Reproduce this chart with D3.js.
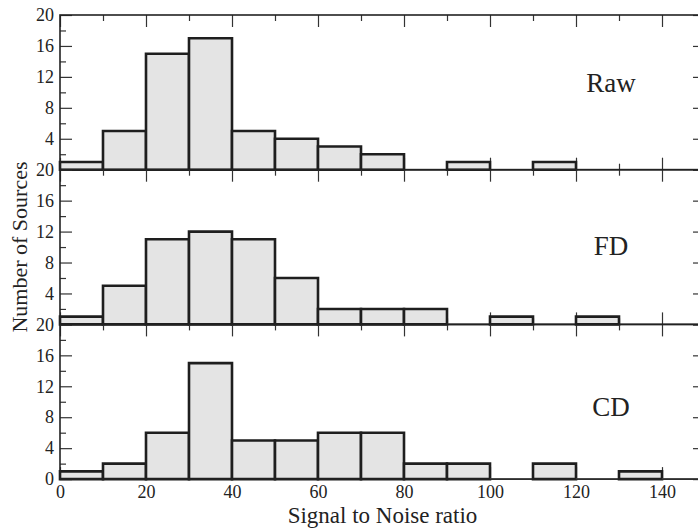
<!DOCTYPE html>
<html>
<head>
<meta charset="utf-8">
<script src="https://cdn.jsdelivr.net/npm/d3@7"></script>
<style>
  body { margin: 0; background: #fff; }
  svg text { font-family: "Liberation Serif", "Times New Roman", serif; fill: #222; }
</style>
</head>
<body>
<div id="chart"></div>
<script>
// bin lower edges are 0,10,20,... ; counts per bin
var binWidth = 10;
var rawCounts = [1, 5, 15, 17, 5, 4, 3, 2, 0, 1, 0, 1];
var fdCounts  = [1, 5, 11, 12, 11, 6, 2, 2, 2, 0, 1, 0, 1];
var cdCounts  = [1, 2, 6, 15, 5, 5, 6, 6, 2, 2, 0, 2, 0, 1, 0];
var panelNames = ["Raw", "FD", "CD"];
var xTicks = [0, 20, 40, 60, 80, 100, 120, 140];
var yTicks = [0, 4, 8, 12, 16, 20];

var panels = [rawCounts, fdCounts, cdCounts];
var labelLevel = [10, 9, 8.2]; // panel label height, in count units

var W = 698, H = 529,
    plotLeft = 60, plotRight = 705,
    plotTop = 15, panelH = 154.7;

var svg = d3.select("#chart").append("svg")
    .attr("width", W)
    .attr("height", H);

var x = d3.scaleLinear().domain([0, 150]).range([plotLeft, plotRight]);
var minorX = d3.range(10, 150, 20);
var minorY = [2, 6, 10, 14, 18];

var tickStyle = function(sel) {
  sel.select(".domain").remove();
  sel.selectAll(".tick line").attr("stroke", "#333").attr("stroke-width", 1.2);
};

panels.forEach(function(counts, p) {
  var y0 = plotTop + p * panelH, y1 = y0 + panelH;
  var y = d3.scaleLinear().domain([0, 20]).range([y1, y0]);
  var g = svg.append("g").attr("class", "panel");

  // ticks pointing inward on all four sides
  // the 0 label of the upper panels sits under the next panel's 20
  var ly = g.append("g").attr("transform", "translate(" + plotLeft + ",0)")
    .call(d3.axisLeft(y).tickValues(yTicks).tickSize(-12).tickPadding(6))
    .call(tickStyle);
  ly.selectAll("text").style("font-size", "18px").attr("fill", "#222");
  if (p < 2) ly.selectAll(".tick").filter(function(d) { return d == 0; }).select("text").remove();
  g.append("g").attr("transform", "translate(" + plotLeft + ",0)")
    .call(d3.axisLeft(y).tickValues(minorY).tickSize(-6).tickFormat(""))
    .call(tickStyle);
  g.append("g").attr("transform", "translate(" + plotRight + ",0)")
    .call(d3.axisRight(y).tickValues(yTicks).tickSize(-12).tickFormat(""))
    .call(tickStyle);
  g.append("g").attr("transform", "translate(" + plotRight + ",0)")
    .call(d3.axisRight(y).tickValues(minorY).tickSize(-6).tickFormat(""))
    .call(tickStyle);
  g.append("g").attr("transform", "translate(0," + y0 + ")")
    .call(d3.axisTop(x).tickValues(xTicks).tickSize(-12).tickFormat(""))
    .call(tickStyle);
  g.append("g").attr("transform", "translate(0," + y0 + ")")
    .call(d3.axisTop(x).tickValues(minorX).tickSize(-6).tickFormat(""))
    .call(tickStyle);
  var bx = g.append("g").attr("transform", "translate(0," + y1 + ")")
    .call(d3.axisBottom(x).tickValues(xTicks).tickSize(-12).tickPadding(6)
      .tickFormat(p == 2 ? d3.format("d") : ""))
    .call(tickStyle);
  bx.selectAll("text").style("font-size", "18px").attr("fill", "#222");
  g.append("g").attr("transform", "translate(0," + y1 + ")")
    .call(d3.axisBottom(x).tickValues(minorX).tickSize(-6).tickFormat(""))
    .call(tickStyle);

  // histogram bars
  g.selectAll(".bar")
    .data(counts)
    .enter().append("path")
    .attr("class", "bar")
    .attr("d", function(d, i) {
      var xa = x(i * binWidth), xb = x((i + 1) * binWidth);
      return "M" + xa + "," + y(0) + "V" + y(d) + "H" + xb + "V" + y(0) + "Z";
    })
    .attr("fill", "#e4e4e4")
    .attr("stroke", function(d) { return d == 0 ? "#888" : "#1e1e1e"; })
    .attr("stroke-width", function(d) { return d == 0 ? 1.5 : 2.6; })
    .attr("stroke-linejoin", "miter");

  // frame
  g.append("rect")
    .attr("x", plotLeft).attr("y", y0)
    .attr("width", plotRight - plotLeft).attr("height", panelH)
    .attr("fill", "none")
    .attr("stroke", "#222")
    .attr("stroke-width", 1.6);

  g.append("text")
    .attr("x", 611)
    .attr("y", y(labelLevel[p]))
    .attr("text-anchor", "middle")
    .style("font-size", "27px")
    .text(panelNames[p]);
});

svg.append("text")
  .attr("x", (plotLeft + plotRight) / 2)
  .attr("y", 523)
  .attr("text-anchor", "middle")
  .style("font-size", "23px")
  .text("Signal to Noise ratio");

svg.append("text")
  .attr("transform", "translate(27," + (plotTop + 1.5 * panelH) + ") rotate(-90)")
  .attr("text-anchor", "middle")
  .style("font-size", "22px")
  .text("Number of Sources");
</script>
</body>
</html>
